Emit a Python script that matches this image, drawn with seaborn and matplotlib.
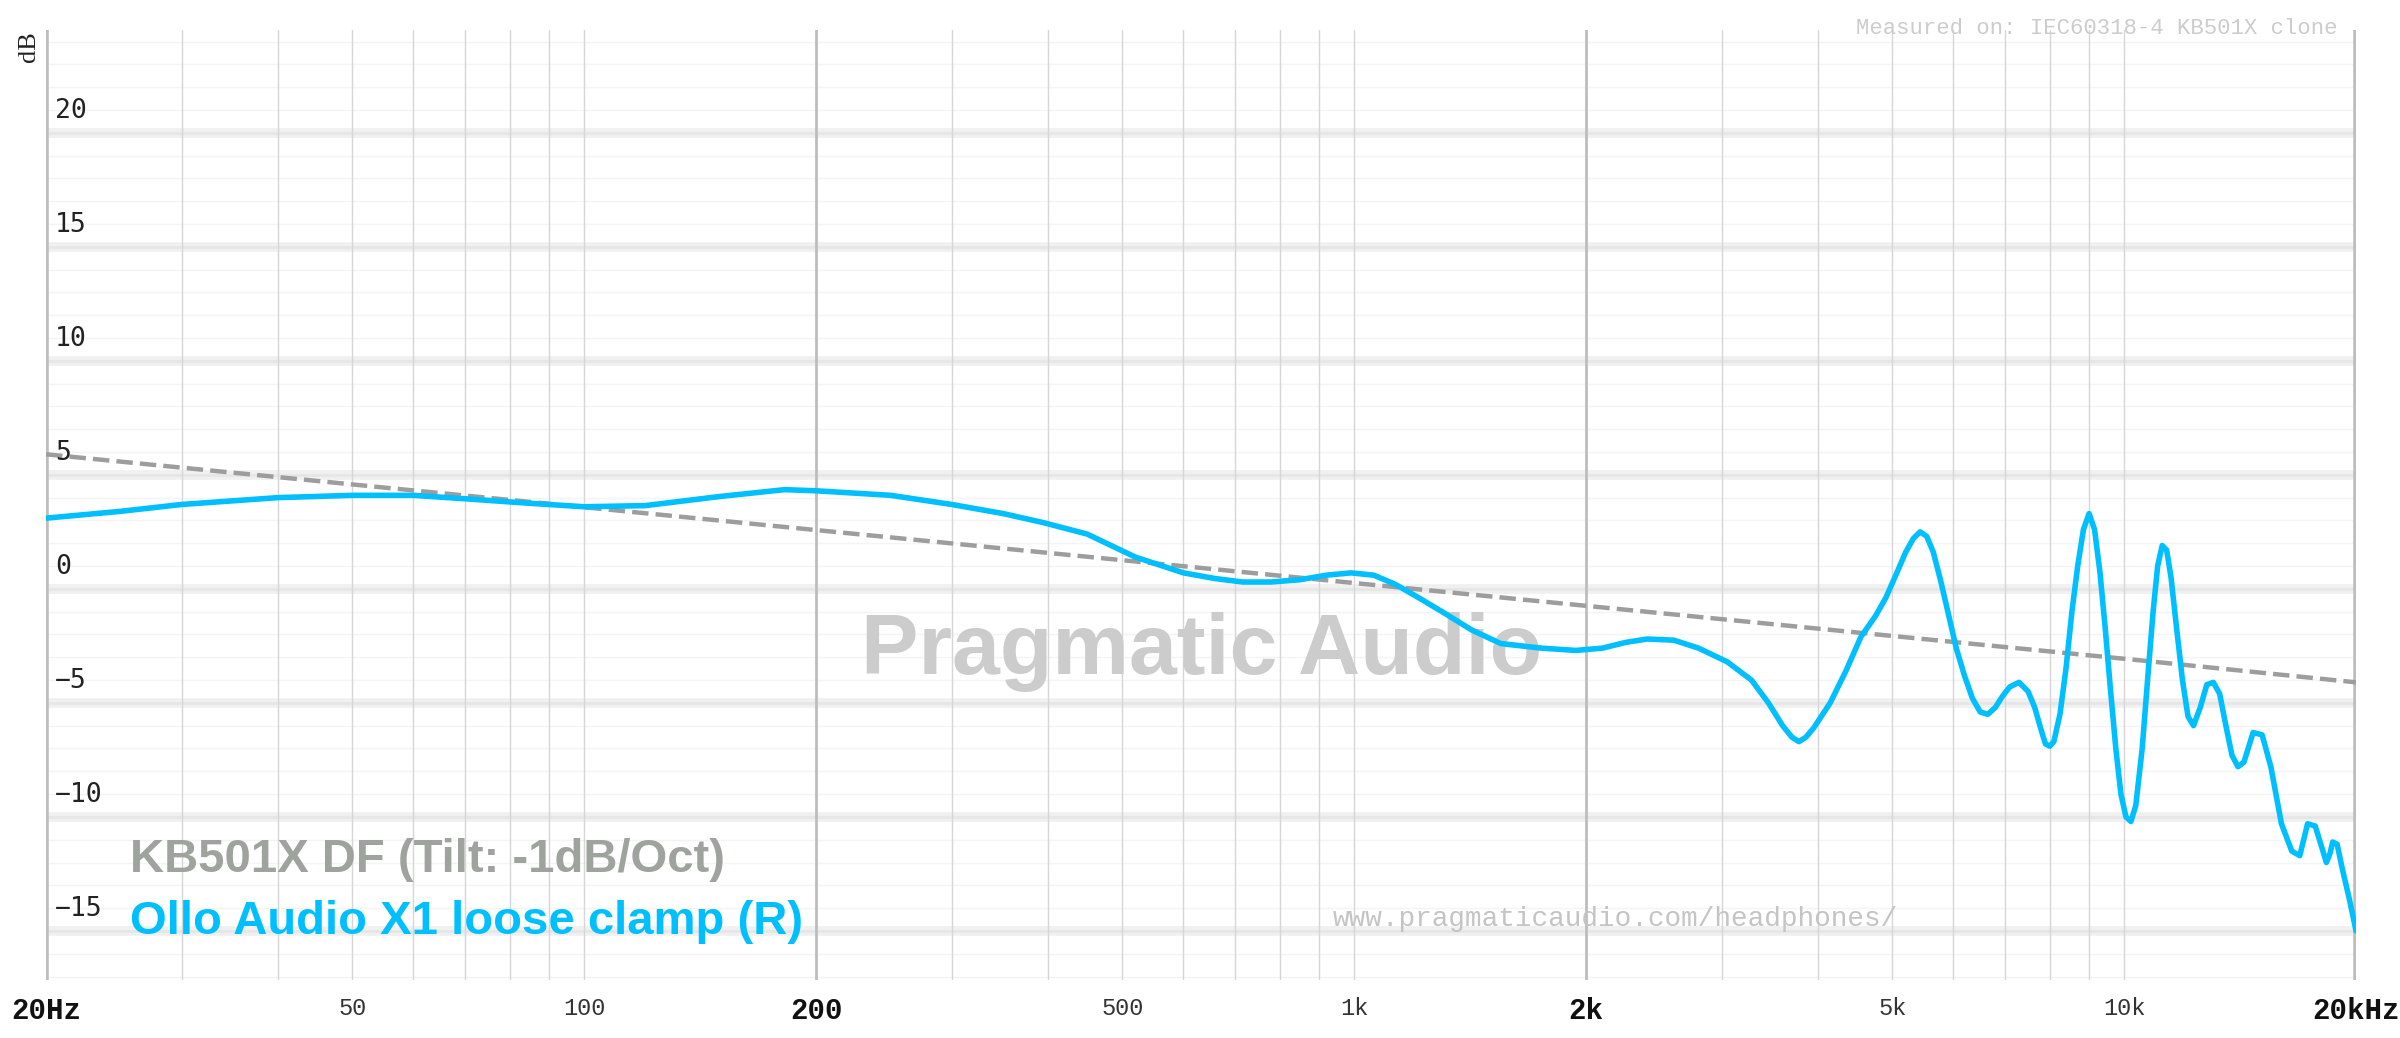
import matplotlib.pyplot as plt
import seaborn as sns
import pandas as pd

freq = [20, 25, 30, 40, 50, 60, 70, 85, 100, 120, 150, 182, 200, 250, 300, 350, 395, 450,
        519, 600, 660, 716, 780, 850, 920, 990, 1060, 1130, 1200, 1300, 1420, 1550, 1750,
        1940, 2100, 2250, 2400, 2600, 2800, 3050, 3280, 3450, 3600, 3700, 3780, 3860, 3950,
        4150, 4350, 4550, 4750, 4900, 5050, 5200, 5320, 5430, 5540, 5650, 5780, 5900, 6050,
        6200, 6350, 6500, 6650, 6800, 6950, 7100, 7300, 7500, 7650, 7800, 7900, 8000, 8100,
        8250, 8400, 8550, 8700, 8850, 9000, 9150, 9300, 9450, 9600, 9750, 9900, 10050, 10200,
        10350, 10550, 10750, 10900, 11050, 11200, 11350, 11500, 11700, 11900, 12100, 12300,
        12550, 12800, 13050, 13300, 13550, 13800, 14050, 14300, 14700, 15100, 15500, 16000,
        16500, 16900, 17300, 17700, 18000, 18300, 18500, 18650, 18900, 19200, 19600, 20000]
spl = [3.1, 3.4, 3.7, 4.0, 4.1, 4.1, 3.95, 3.75, 3.6, 3.65, 4.05, 4.35, 4.3, 4.1, 3.7, 3.3,
       2.9, 2.4, 1.4, 0.7, 0.45, 0.3, 0.3, 0.4, 0.6, 0.7, 0.6, 0.2, -0.3, -1.0, -1.8, -2.4,
       -2.6, -2.7, -2.6, -2.35, -2.2, -2.25, -2.6, -3.2, -4.0, -5.0, -6.0, -6.5, -6.7, -6.5,
       -6.1, -5.0, -3.6, -2.1, -1.2, -0.4, 0.6, 1.6, 2.2, 2.5, 2.3, 1.6, 0.3, -1.0, -2.6,
       -3.8, -4.8, -5.4, -5.5, -5.2, -4.7, -4.3, -4.1, -4.5, -5.2, -6.2, -6.8, -6.9, -6.7,
       -5.5, -3.5, -1.0, 1.0, 2.6, 3.3, 2.6, 0.7, -1.8, -4.5, -7.0, -9.0, -10.0, -10.2,
       -9.5, -7.0, -3.5, -1.0, 1.0, 1.9, 1.7, 0.5, -1.8, -4.0, -5.6, -6.0, -5.2, -4.2,
       -4.1, -4.6, -6.0, -7.3, -7.8, -7.6, -6.3, -6.4, -7.8, -10.3, -11.5, -11.7, -10.3,
       -10.4, -11.2, -12.0, -11.6, -11.1, -11.2, -12.3, -13.6, -15.0]

# target: KB501X diffuse field with -1 dB/octave tilt
target_freq = [20, 40, 80, 160, 320, 640, 1280, 2560, 5120, 10240, 20000]
target_spl = [5.9, 4.9, 3.9, 2.9, 1.9, 0.9, -0.1, -1.1, -2.1, -3.1, -4.1]

major_x = [20, 200, 2000, 20000]
minor_x = [30, 40, 50, 60, 70, 80, 90, 100, 300, 400, 500, 600, 700, 800, 900, 1000,
           3000, 4000, 5000, 6000, 7000, 8000, 9000, 10000]
xtick_vals = [20, 50, 100, 200, 500, 1000, 2000, 5000, 10000, 20000]
xtick_text = ['20Hz', '50', '100', '200', '500', '1k', '2k', '5k', '10k', '20kHz']
ytick_vals = [-15, -10, -5, 0, 5, 10, 15, 20]

sns.set_style('white')
mono = ['Liberation Mono', 'DejaVu Sans Mono']
sans = ['Liberation Sans', 'DejaVu Sans']

fig = plt.figure(figsize=(24, 10.38), dpi=100)
ax = fig.add_axes([0.0192, 0.0559, 0.9625, 0.9151])
ax.set_xscale('log')
ax.set_xlim(20, 20000)
ax.set_ylim(-17.15, 24.5)

# grid
for d in range(-17, 25):
    if d % 5:
        ax.axhline(d, color='#f4f4f4', lw=1, zorder=0)
for y in ytick_vals:
    ax.axhline(y, color='#f0f0f0', lw=7, zorder=0)
    ax.axhline(y, color='#e6e6e6', lw=2, zorder=0)
for x in minor_x:
    ax.axvline(x, color='#d6d6d6', lw=1, zorder=0)
for x in major_x:
    ax.axvline(x, color='#bdbdbd', lw=2, zorder=0)
ax.axvline(20, color='#bdbdbd', lw=4, zorder=0)
ax.axvline(20000, color='#bdbdbd', lw=4, zorder=0)

ax.text(0.5, 0.345, 'Pragmatic Audio', transform=ax.transAxes, ha='center', va='center',
        fontsize=62, fontweight='bold', color='#cccccc', family=sans, zorder=1)

curve = pd.DataFrame({'freq': freq, 'spl': spl})
target = pd.DataFrame({'freq': target_freq, 'spl': target_spl})
sns.lineplot(data=target, x='freq', y='spl', ax=ax, color='#9d9d9d', lw=3.2,
             dashes=(4, 2.2), linestyle='--', zorder=3)
sns.lineplot(data=curve, x='freq', y='spl', ax=ax, color='#00bfff', lw=4, zorder=4)

for s in ax.spines.values():
    s.set_visible(False)
ax.set_xlabel('')
ax.set_ylabel('')
ax.set_xticks(xtick_vals)
ax.set_xticklabels(xtick_text)
ax.set_xticks([], minor=True)
ax.tick_params(axis='x', length=0, pad=12)
for lbl, v in zip(ax.get_xticklabels(), xtick_vals):
    lbl.set_family(mono)
    if v in major_x:
        lbl.set_fontsize(21)
        lbl.set_color('#111111')
        lbl.set_fontweight('bold')
    else:
        lbl.set_fontsize(17)
        lbl.set_color('#333333')
ax.set_yticks([])
for y in ytick_vals:
    ax.annotate(str(y).replace('-', '\u2212'), xy=(0, y), xycoords=('axes fraction', 'data'),
                xytext=(9, 9), textcoords='offset pixels', ha='left', va='bottom',
                fontsize=19, family=['DejaVu Sans Mono'], color='#222222')

fig.text(0.012, 0.97, 'dB', rotation=90, ha='center', va='top', fontsize=19,
         family=['Liberation Serif', 'DejaVu Serif'], color='#222222')
fig.text(0.974, 0.983, 'Measured on: IEC60318-4 KB501X clone', ha='right', va='top',
         fontsize=16, family=mono, color='#cccccc')
fig.text(0.673, 0.115, 'www.pragmaticaudio.com/headphones/', ha='center', va='center',
         fontsize=20, family=mono, color='#c4c4c4')
fig.text(0.054, 0.16, 'KB501X DF (Tilt: -1dB/Oct)', ha='left', va='baseline',
         fontsize=34, fontweight='bold', family=sans, color='#9fa39e')
fig.text(0.054, 0.1, 'Ollo Audio X1 loose clamp (R)', ha='left', va='baseline',
         fontsize=34, fontweight='bold', family=sans, color='#00bfff')

fig.savefig('out.png', dpi=100)
